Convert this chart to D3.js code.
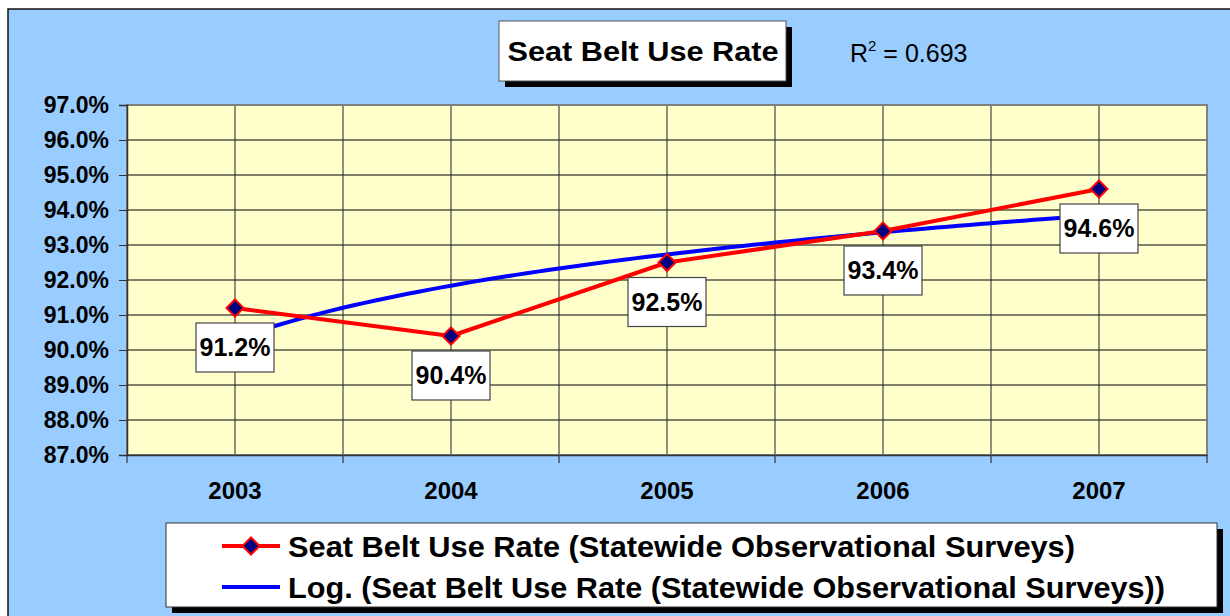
<!DOCTYPE html>
<html lang="en">
<head>
<meta charset="UTF-8">
<title>Seat Belt Use Rate</title>
<script src="https://cdn.jsdelivr.net/npm/d3@7/dist/d3.min.js"></script>
<style>
  * { margin: 0; padding: 0; box-sizing: border-box; }
  body { background: #fff; width: 1230px; height: 616px; overflow: hidden; font-family: Arial, 'Liberation Sans', sans-serif; }
  svg { display: block; }
</style>
</head>
<body>
<div id="chart"></div>
<script>
// ─── Data ────────────────────────────────────────────────────────────────────
const years    = ['2003', '2004', '2005', '2006', '2007'];
const useRate  = [91.2, 90.4, 92.5, 93.4, 94.6];
const yTicks   = [87, 88, 89, 90, 91, 92, 93, 94, 95, 96, 97];
const seriesName = 'Seat Belt Use Rate (Statewide Observational Surveys)';
const trendName  = 'Log. (Seat Belt Use Rate (Statewide Observational Surveys))';

// ─── Layout ──────────────────────────────────────────────────────────────────
const W = 1230, H = 616;
const plot = { left: 127, top: 105, right: 1207, bottom: 455 };
const BG_OUTER = '#99CCFF', BG_PLOT = '#FFFFCC';

const svg = d3.select('#chart').append('svg').attr('width', W).attr('height', H);

// chart area background with the black border on top/left
svg.append('rect').attr('x', 8).attr('y', 9).attr('width', W).attr('height', H)
  .attr('fill', BG_OUTER).attr('stroke', '#111').attr('stroke-width', 1.5);

// ─── Scales ──────────────────────────────────────────────────────────────────
const x = d3.scaleBand().domain(years).range([plot.left, plot.right]).padding(0);
const xi = d3.scaleLinear().domain([-0.5, years.length - 0.5]).range([plot.left, plot.right]);
const y = d3.scaleLinear().domain([87, 97]).range([plot.bottom, plot.top]);
const cx = d => x(d) + x.bandwidth() / 2;

// plot area
svg.append('rect')
  .attr('x', plot.left).attr('y', plot.top)
  .attr('width', plot.right - plot.left).attr('height', plot.bottom - plot.top)
  .attr('fill', BG_PLOT);

// horizontal gridlines
svg.append('g').selectAll('line').data(yTicks.slice(1)).enter().append('line')
  .attr('x1', plot.left).attr('x2', plot.right)
  .attr('y1', d => y(d)).attr('y2', d => y(d))
  .attr('stroke', '#000').attr('stroke-width', 1);

// vertical gridlines: category centres and boundaries
const vLines = years.map(cx).concat(years.slice(1).map(d => x(d)));
svg.append('g').selectAll('line').data(vLines).enter().append('line')
  .attr('x1', d => d).attr('x2', d => d)
  .attr('y1', plot.top).attr('y2', plot.bottom)
  .attr('stroke', '#222').attr('stroke-width', 1);

// plot border
svg.append('rect')
  .attr('x', plot.left).attr('y', plot.top)
  .attr('width', plot.right - plot.left).attr('height', plot.bottom - plot.top)
  .attr('fill', 'none').attr('stroke', '#808080').attr('stroke-width', 2);

// ─── Axes ────────────────────────────────────────────────────────────────────
const yAxis = svg.append('g').attr('transform', `translate(${plot.left},0)`)
  .call(d3.axisLeft(y).tickValues(yTicks).tickSize(8).tickPadding(10)
    .tickFormat(d => d.toFixed(1) + '%'));
yAxis.select('.domain').attr('stroke', '#333').attr('stroke-width', 1.5);
yAxis.selectAll('.tick line').attr('stroke', '#333');
yAxis.selectAll('text')
  .attr('font-family', 'Arial, Liberation Sans, sans-serif')
  .attr('font-size', 23).attr('font-weight', 'bold').attr('fill', '#000');

const xAxis = svg.append('g').attr('transform', `translate(0,${plot.bottom})`)
  .call(d3.axisBottom(x).tickSize(0).tickPadding(0));
xAxis.select('.domain').attr('stroke', '#333').attr('stroke-width', 1.5);
xAxis.selectAll('text')
  .attr('y', 44)
  .attr('dy', 0)
  .attr('font-family', 'Arial, Liberation Sans, sans-serif')
  .attr('font-size', 24).attr('font-weight', 'bold').attr('fill', '#000');
// category boundary tick marks
svg.append('g').selectAll('line').data(years.map(d => x(d)).concat([plot.right])).enter().append('line')
  .attr('x1', d => d).attr('x2', d => d)
  .attr('y1', plot.bottom).attr('y2', plot.bottom + 8)
  .attr('stroke', '#333').attr('stroke-width', 1.2);

// ─── Logarithmic trendline (least squares on ln(x)) ─────────────────────────
const lx = useRate.map((_, i) => Math.log(i + 1));
const mx = d3.mean(lx), my = d3.mean(useRate);
const sxy = d3.sum(lx, (v, i) => (v - mx) * (useRate[i] - my));
const sxx = d3.sum(lx, v => (v - mx) ** 2);
const b = sxy / sxx, a = my - b * mx;
const trendPts = d3.range(0, 4.0001, 0.05).map(i => [i, a + b * Math.log(i + 1)]);

svg.append('path').datum(trendPts)
  .attr('fill', 'none').attr('stroke', '#0000FF').attr('stroke-width', 4)
  .attr('d', d3.line().x(d => xi(d[0])).y(d => y(d[1])));

// ─── Data series ────────────────────────────────────────────────────────────
svg.append('path').datum(useRate)
  .attr('fill', 'none').attr('stroke', '#FF0000').attr('stroke-width', 4)
  .attr('stroke-linejoin', 'round')
  .attr('d', d3.line().x((d, i) => cx(years[i])).y(d => y(d)));

const diamond = d3.symbol().type(d3.symbolDiamond2).size(185);
svg.append('g').selectAll('path').data(useRate).enter().append('path')
  .attr('d', diamond)
  .attr('transform', (d, i) => `translate(${cx(years[i])},${y(d)})`)
  .attr('fill', '#000080').attr('stroke', '#FF0000').attr('stroke-width', 2);

// data labels
const lbl = svg.append('g').selectAll('g').data(useRate).enter().append('g')
  .attr('transform', (d, i) => `translate(${cx(years[i])},${y(d) + 15})`);
lbl.append('rect').attr('x', -39).attr('y', 0).attr('width', 78).attr('height', 49)
  .attr('fill', '#fff').attr('stroke', '#444').attr('stroke-width', 1.2);
lbl.append('text').attr('x', 0).attr('y', 33).attr('text-anchor', 'middle')
  .attr('font-size', 25).attr('font-weight', 'bold').attr('fill', '#000')
  .text(d => d.toFixed(1) + '%');

// ─── Title + R² ─────────────────────────────────────────────────────────────
svg.append('rect').attr('x', 505).attr('y', 27).attr('width', 287).attr('height', 60).attr('fill', '#000');
svg.append('rect').attr('x', 499).attr('y', 21).attr('width', 287).attr('height', 60)
  .attr('fill', '#fff').attr('stroke', '#555').attr('stroke-width', 1);
svg.append('text').attr('x', 643).attr('y', 61).attr('text-anchor', 'middle')
  .attr('font-size', 28).attr('font-weight', 'bold').attr('fill', '#000')
  .attr('textLength', 271).attr('lengthAdjust', 'spacingAndGlyphs')
  .text('Seat Belt Use Rate');

const r2 = svg.append('text').attr('x', 850).attr('y', 62)
  .attr('font-size', 25).attr('fill', '#000');
r2.append('tspan').text('R');
r2.append('tspan').attr('font-size', 15).attr('dy', -11).text('2');
r2.append('tspan').attr('dy', 11).text(' = ' + (sxy * sxy / (sxx * d3.sum(useRate, v => (v - my) ** 2))).toFixed(3));

// ─── Legend ──────────────────────────────────────────────────────────────────
svg.append('rect').attr('x', 172).attr('y', 529).attr('width', 1051).attr('height', 84).attr('fill', '#000');
svg.append('rect').attr('x', 166).attr('y', 523).attr('width', 1051).attr('height', 84)
  .attr('fill', '#fff').attr('stroke', '#333').attr('stroke-width', 1);

const leg = [
  { name: seriesName, color: '#FF0000', marker: true, y: 546, w: 787 },
  { name: trendName, color: '#0000FF', marker: false, y: 587, w: 877 }
];
const li = svg.append('g').selectAll('g').data(leg).enter().append('g')
  .attr('transform', d => `translate(0,${d.y})`);
li.append('line').attr('x1', 222).attr('x2', 280)
  .attr('stroke', d => d.color).attr('stroke-width', 4);
li.filter(d => d.marker).append('path')
  .attr('d', diamond).attr('transform', 'translate(251,0)')
  .attr('fill', '#000080').attr('stroke', '#FF0000').attr('stroke-width', 2);
li.append('text').attr('x', 288).attr('y', 11)
  .attr('font-size', 30).attr('font-weight', 'bold').attr('fill', '#000')
  .attr('textLength', d => d.w).attr('lengthAdjust', 'spacingAndGlyphs')
  .text(d => d.name);
</script>
</body>
</html>
